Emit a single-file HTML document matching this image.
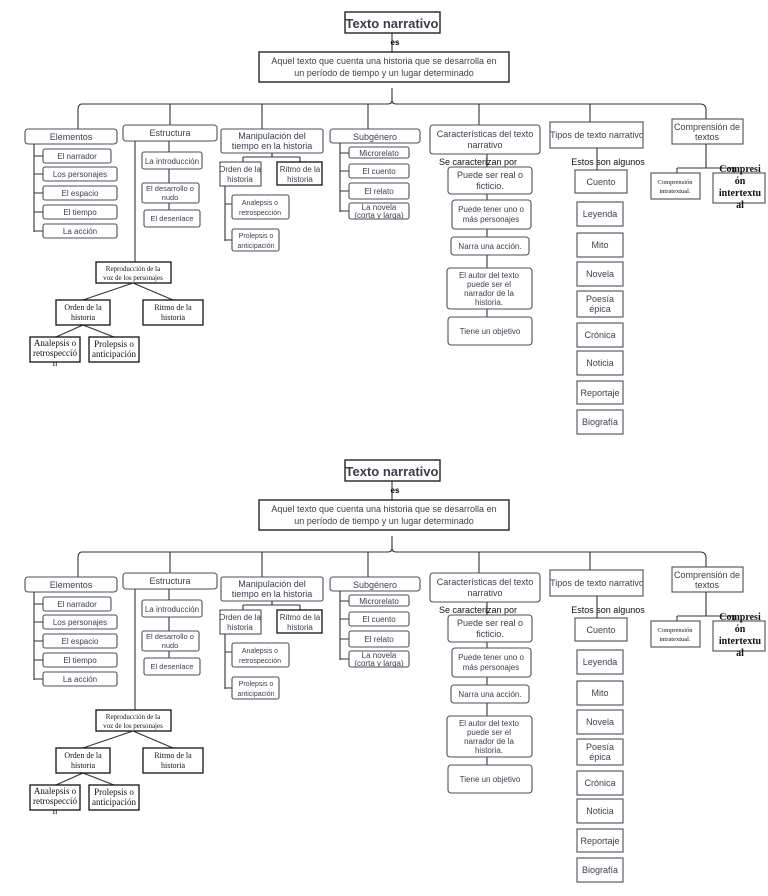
<!DOCTYPE html>
<html><head><meta charset="utf-8"><style>
html,body{margin:0;padding:0;background:#fff;}
svg{display:block;}
text{font-family:"Liberation Sans",sans-serif;fill:#3a3f4a;text-anchor:middle;}
.b{fill:#fff;stroke:#4a4f58;stroke-width:1.1;}
.k{fill:#fff;stroke:#111;stroke-width:1.3;}
.l{stroke:#333;stroke-width:1.1;fill:none;}
.s{font-size:8px;}
.m{font-size:9px;}
.bl{fill:#000;}
.sf{font-family:"Liberation Serif",serif;fill:#111;}
</style></head><body>
<svg width="768" height="896" viewBox="0 0 768 896" xmlns="http://www.w3.org/2000/svg">
<g id="d1">
<rect class="k" x="345" y="12" width="95" height="21"/>
<text x="392" y="28" style="font-size:13px;font-weight:bold">Texto narrativo</text>
<line class="l" x1="392" y1="33" x2="392" y2="52"/>
<text x="395" y="45" class="s bl" style="font-weight:bold">es</text>
<rect class="k" x="259" y="52" width="250" height="30"/>
<text x="384" y="64" class="m">Aquel texto que cuenta una historia que se desarrolla en</text>
<text x="384" y="76" class="m">un período de tiempo y un lugar determinado</text>
<path class="l" d="M392 88 V100 Q392 104 388 104 H82 Q78 104 78 110 V129 M392 100 Q392 104 396 104 H700 Q706 104 706 110 V119"/>
<path class="l" d="M170 104V125 M262 104V129 M368 104V129 M479 104V125 M590 104V122"/>
<!-- Elementos -->
<rect class="b" x="25" y="129" width="92" height="15" rx="3"/><text x="71" y="140" class="m">Elementos</text>
<path class="l" d="M34 144V232 M34 156H43 M34 174H43 M34 193H43 M34 212H43 M34 231H43"/>
<rect class="b" x="43" y="149" width="68" height="14" rx="2"/><text x="77" y="159" class="s">El narrador</text>
<rect class="b" x="43" y="167" width="74" height="14" rx="2"/><text x="80" y="177" class="s">Los personajes</text>
<rect class="b" x="43" y="186" width="74" height="14" rx="2"/><text x="80" y="196" class="s">El espacio</text>
<rect class="b" x="43" y="205" width="74" height="14" rx="2"/><text x="80" y="215" class="s">El tiempo</text>
<rect class="b" x="43" y="224" width="74" height="14" rx="2"/><text x="80" y="234" class="s">La acción</text>
<!-- Estructura -->
<rect class="b" x="123" y="125" width="94" height="16" rx="3"/><text x="170" y="136" class="m">Estructura</text>
<path class="l" d="M169 141V153 M169 169V183 M169 203V210 M135 141V262"/>
<rect class="b" x="142" y="152" width="60" height="17" rx="2"/><text x="172" y="164" class="s">La introducción</text>
<rect class="b" x="142" y="183" width="57" height="20" rx="2"/><text x="170" y="191" class="s" style="font-size:7.5px">El desarrollo o</text><text x="170" y="200" class="s" style="font-size:7.5px">nudo</text>
<rect class="b" x="144" y="210" width="56" height="17" rx="2"/><text x="172" y="221" class="s" style="font-size:7.5px">El desenlace</text>
<!-- Manipulación -->
<rect class="b" x="221" y="129" width="102" height="24" rx="2"/><text x="272" y="139" class="m">Manipulación del</text><text x="272" y="149" class="m">tiempo en la historia</text>
<path class="l" d="M272 153V157 M243 157H300 M243 157V162 M300 157V162 M225 186V241 M225 204H232 M225 240H232"/>
<rect class="b" x="220" y="162" width="41" height="24"/><text x="240" y="172" class="s">Orden de la</text><text x="240" y="182" class="s">historia</text>
<rect class="k" x="277" y="162" width="45" height="23"/><text x="300" y="172" class="s">Ritmo de la</text><text x="300" y="182" class="s">historia</text>
<rect class="b" x="232" y="195" width="57" height="24" rx="2"/><text x="260" y="205" class="s" style="font-size:7px">Analepsis o</text><text x="260" y="215" class="s" style="font-size:7px">retrospección</text>
<rect class="b" x="232" y="229" width="47" height="22" rx="2"/><text x="256" y="238" class="s" style="font-size:7px">Prolepsis o</text><text x="256" y="248" class="s" style="font-size:7px">anticipación</text>
<!-- Subgénero -->
<rect class="b" x="330" y="129" width="90" height="14" rx="3"/><text x="375" y="140" class="m">Subgénero</text>
<path class="l" d="M340 143V212 M340 153H349 M340 171H349 M340 191H349 M340 211H349"/>
<rect class="b" x="349" y="147" width="60" height="11" rx="2"/><text x="379" y="156" class="s">Microrelato</text>
<rect class="b" x="349" y="164" width="60" height="14" rx="2"/><text x="379" y="174" class="s">El cuento</text>
<rect class="b" x="349" y="183" width="60" height="16" rx="2"/><text x="379" y="194" class="s">El relato</text>
<rect class="b" x="349" y="203" width="60" height="16" rx="2"/><text x="379" y="210" class="s">La novela</text><text x="379" y="218" class="s">(corta y larga)</text>
<!-- Características -->
<rect class="b" x="430" y="125" width="110" height="29" rx="3"/><text x="485" y="137" class="m">Características del texto</text><text x="485" y="148" class="m">narrativo</text>
<path class="l" d="M487 154V317"/>
<text x="478" y="165" class="m bl" style="fill:#111">Se caracterizan por</text>
<rect class="b" x="448" y="167" width="84" height="27" rx="3"/><text x="490" y="178" class="m">Puede ser real o</text><text x="490" y="189" class="m">ficticio.</text>
<rect class="b" x="452" y="200" width="79" height="29" rx="3"/><text x="491" y="212" class="s">Puede tener uno o</text><text x="491" y="222" class="s">más personajes</text>
<rect class="b" x="451" y="237" width="78" height="18" rx="3"/><text x="490" y="249" class="s">Narra una acción.</text>
<rect class="b" x="447" y="268" width="85" height="41" rx="3"/><text x="489" y="278" class="s">El autor del texto</text><text x="489" y="287" class="s">puede ser el</text><text x="489" y="296" class="s">narrador de la</text><text x="489" y="305" class="s">historia.</text>
<rect class="b" x="448" y="317" width="84" height="28" rx="3"/><text x="490" y="334" class="s">Tiene un objetivo</text>
<!-- Tipos -->
<rect class="b" x="550" y="122" width="93" height="26"/><text x="597" y="138" class="m">Tipos de texto narrativo</text>
<path class="l" d="M597 148V171"/>
<text x="608" y="165" class="m bl" style="fill:#111">Estos son algunos</text>
<rect class="b" x="575" y="170" width="52" height="23"/><text x="601" y="185" class="m">Cuento</text>
<rect class="b" x="577" y="202" width="46" height="24"/><text x="600" y="217" class="m">Leyenda</text>
<rect class="b" x="577" y="233" width="46" height="24"/><text x="600" y="248" class="m">Mito</text>
<rect class="b" x="577" y="262" width="46" height="24"/><text x="600" y="277" class="m">Novela</text>
<rect class="b" x="577" y="291" width="46" height="26"/><text x="600" y="302" class="m">Poesía</text><text x="600" y="312" class="m">épica</text>
<rect class="b" x="577" y="323" width="46" height="24"/><text x="600" y="338" class="m">Crónica</text>
<rect class="b" x="577" y="351" width="46" height="24"/><text x="600" y="366" class="m">Noticia</text>
<rect class="b" x="577" y="381" width="46" height="23"/><text x="600" y="396" class="m">Reportaje</text>
<rect class="b" x="577" y="410" width="46" height="24"/><text x="600" y="425" class="m">Biografía</text>
<!-- Comprensión -->
<rect class="b" x="672" y="119" width="71" height="25"/><text x="707" y="130" class="m">Comprensión de</text><text x="707" y="140" class="m">textos</text>
<path class="l" d="M706 144V168 M677 168H734 M677 168V173 M734 168V173"/>
<rect class="b" x="651" y="173" width="49" height="26"/><text x="675" y="184" class="sf" style="font-size:6.5px">Comprensión</text><text x="675" y="193" class="sf" style="font-size:6.5px">intratextual.</text>
<rect class="b" x="713" y="173" width="52" height="30"/>
<text x="740" y="172" class="sf" style="font-size:10px;font-weight:bold">Compresi</text>
<text x="740" y="184" class="sf" style="font-size:10px;font-weight:bold">ón</text>
<text x="740" y="196" class="sf" style="font-size:10px;font-weight:bold">intertextu</text>
<text x="740" y="208" class="sf" style="font-size:10px;font-weight:bold">al</text>
<!-- Reproducción -->
<rect class="k" x="96" y="262" width="75" height="21"/><text x="133" y="271" class="sf" style="font-size:7px">Reproducción de la</text><text x="133" y="280" class="sf" style="font-size:7px">voz de los personajes</text>
<path class="l" d="M133 283L83 300 M133 283L173 300 M83 325L56 337 M83 325L114 337"/>
<rect class="k" x="56" y="300" width="54" height="25"/><text x="83" y="310" class="sf" style="font-size:8px">Orden de la</text><text x="83" y="320" class="sf" style="font-size:8px">historia</text>
<rect class="k" x="143" y="300" width="60" height="25"/><text x="173" y="310" class="sf" style="font-size:8px">Ritmo de la</text><text x="173" y="320" class="sf" style="font-size:8px">historia</text>
<rect class="k" x="30" y="337" width="50" height="25"/><text x="55" y="346" class="sf" style="font-size:9px">Analepsis o</text><text x="55" y="356" class="sf" style="font-size:9px">retrospecció</text><text x="55" y="366" class="sf" style="font-size:9px">n</text>
<rect class="k" x="89" y="337" width="50" height="25"/><text x="114" y="347" class="sf" style="font-size:9px">Prolepsis o</text><text x="114" y="357" class="sf" style="font-size:9px">anticipación</text>
</g>
<g transform="translate(0,448)">
<rect class="k" x="345" y="12" width="95" height="21"/>
<text x="392" y="28" style="font-size:13px;font-weight:bold">Texto narrativo</text>
<line class="l" x1="392" y1="33" x2="392" y2="52"/>
<text x="395" y="45" class="s bl" style="font-weight:bold">es</text>
<rect class="k" x="259" y="52" width="250" height="30"/>
<text x="384" y="64" class="m">Aquel texto que cuenta una historia que se desarrolla en</text>
<text x="384" y="76" class="m">un período de tiempo y un lugar determinado</text>
<path class="l" d="M392 88 V100 Q392 104 388 104 H82 Q78 104 78 110 V129 M392 100 Q392 104 396 104 H700 Q706 104 706 110 V119"/>
<path class="l" d="M170 104V125 M262 104V129 M368 104V129 M479 104V125 M590 104V122"/>
<rect class="b" x="25" y="129" width="92" height="15" rx="3"/><text x="71" y="140" class="m">Elementos</text>
<path class="l" d="M34 144V232 M34 156H43 M34 174H43 M34 193H43 M34 212H43 M34 231H43"/>
<rect class="b" x="43" y="149" width="68" height="14" rx="2"/><text x="77" y="159" class="s">El narrador</text>
<rect class="b" x="43" y="167" width="74" height="14" rx="2"/><text x="80" y="177" class="s">Los personajes</text>
<rect class="b" x="43" y="186" width="74" height="14" rx="2"/><text x="80" y="196" class="s">El espacio</text>
<rect class="b" x="43" y="205" width="74" height="14" rx="2"/><text x="80" y="215" class="s">El tiempo</text>
<rect class="b" x="43" y="224" width="74" height="14" rx="2"/><text x="80" y="234" class="s">La acción</text>
<rect class="b" x="123" y="125" width="94" height="16" rx="3"/><text x="170" y="136" class="m">Estructura</text>
<path class="l" d="M169 141V153 M169 169V183 M169 203V210 M135 141V262"/>
<rect class="b" x="142" y="152" width="60" height="17" rx="2"/><text x="172" y="164" class="s">La introducción</text>
<rect class="b" x="142" y="183" width="57" height="20" rx="2"/><text x="170" y="191" class="s" style="font-size:7.5px">El desarrollo o</text><text x="170" y="200" class="s" style="font-size:7.5px">nudo</text>
<rect class="b" x="144" y="210" width="56" height="17" rx="2"/><text x="172" y="221" class="s" style="font-size:7.5px">El desenlace</text>
<rect class="b" x="221" y="129" width="102" height="24" rx="2"/><text x="272" y="139" class="m">Manipulación del</text><text x="272" y="149" class="m">tiempo en la historia</text>
<path class="l" d="M272 153V157 M243 157H300 M243 157V162 M300 157V162 M225 186V241 M225 204H232 M225 240H232"/>
<rect class="b" x="220" y="162" width="41" height="24"/><text x="240" y="172" class="s">Orden de la</text><text x="240" y="182" class="s">historia</text>
<rect class="k" x="277" y="162" width="45" height="23"/><text x="300" y="172" class="s">Ritmo de la</text><text x="300" y="182" class="s">historia</text>
<rect class="b" x="232" y="195" width="57" height="24" rx="2"/><text x="260" y="205" class="s" style="font-size:7px">Analepsis o</text><text x="260" y="215" class="s" style="font-size:7px">retrospección</text>
<rect class="b" x="232" y="229" width="47" height="22" rx="2"/><text x="256" y="238" class="s" style="font-size:7px">Prolepsis o</text><text x="256" y="248" class="s" style="font-size:7px">anticipación</text>
<rect class="b" x="330" y="129" width="90" height="14" rx="3"/><text x="375" y="140" class="m">Subgénero</text>
<path class="l" d="M340 143V212 M340 153H349 M340 171H349 M340 191H349 M340 211H349"/>
<rect class="b" x="349" y="147" width="60" height="11" rx="2"/><text x="379" y="156" class="s">Microrelato</text>
<rect class="b" x="349" y="164" width="60" height="14" rx="2"/><text x="379" y="174" class="s">El cuento</text>
<rect class="b" x="349" y="183" width="60" height="16" rx="2"/><text x="379" y="194" class="s">El relato</text>
<rect class="b" x="349" y="203" width="60" height="16" rx="2"/><text x="379" y="210" class="s">La novela</text><text x="379" y="218" class="s">(corta y larga)</text>
<rect class="b" x="430" y="125" width="110" height="29" rx="3"/><text x="485" y="137" class="m">Características del texto</text><text x="485" y="148" class="m">narrativo</text>
<path class="l" d="M487 154V317"/>
<text x="478" y="165" class="m bl" style="fill:#111">Se caracterizan por</text>
<rect class="b" x="448" y="167" width="84" height="27" rx="3"/><text x="490" y="178" class="m">Puede ser real o</text><text x="490" y="189" class="m">ficticio.</text>
<rect class="b" x="452" y="200" width="79" height="29" rx="3"/><text x="491" y="212" class="s">Puede tener uno o</text><text x="491" y="222" class="s">más personajes</text>
<rect class="b" x="451" y="237" width="78" height="18" rx="3"/><text x="490" y="249" class="s">Narra una acción.</text>
<rect class="b" x="447" y="268" width="85" height="41" rx="3"/><text x="489" y="278" class="s">El autor del texto</text><text x="489" y="287" class="s">puede ser el</text><text x="489" y="296" class="s">narrador de la</text><text x="489" y="305" class="s">historia.</text>
<rect class="b" x="448" y="317" width="84" height="28" rx="3"/><text x="490" y="334" class="s">Tiene un objetivo</text>
<rect class="b" x="550" y="122" width="93" height="26"/><text x="597" y="138" class="m">Tipos de texto narrativo</text>
<path class="l" d="M597 148V171"/>
<text x="608" y="165" class="m bl" style="fill:#111">Estos son algunos</text>
<rect class="b" x="575" y="170" width="52" height="23"/><text x="601" y="185" class="m">Cuento</text>
<rect class="b" x="577" y="202" width="46" height="24"/><text x="600" y="217" class="m">Leyenda</text>
<rect class="b" x="577" y="233" width="46" height="24"/><text x="600" y="248" class="m">Mito</text>
<rect class="b" x="577" y="262" width="46" height="24"/><text x="600" y="277" class="m">Novela</text>
<rect class="b" x="577" y="291" width="46" height="26"/><text x="600" y="302" class="m">Poesía</text><text x="600" y="312" class="m">épica</text>
<rect class="b" x="577" y="323" width="46" height="24"/><text x="600" y="338" class="m">Crónica</text>
<rect class="b" x="577" y="351" width="46" height="24"/><text x="600" y="366" class="m">Noticia</text>
<rect class="b" x="577" y="381" width="46" height="23"/><text x="600" y="396" class="m">Reportaje</text>
<rect class="b" x="577" y="410" width="46" height="24"/><text x="600" y="425" class="m">Biografía</text>
<rect class="b" x="672" y="119" width="71" height="25"/><text x="707" y="130" class="m">Comprensión de</text><text x="707" y="140" class="m">textos</text>
<path class="l" d="M706 144V168 M677 168H734 M677 168V173 M734 168V173"/>
<rect class="b" x="651" y="173" width="49" height="26"/><text x="675" y="184" class="sf" style="font-size:6.5px">Comprensión</text><text x="675" y="193" class="sf" style="font-size:6.5px">intratextual.</text>
<rect class="b" x="713" y="173" width="52" height="30"/>
<text x="740" y="172" class="sf" style="font-size:10px;font-weight:bold">Compresi</text>
<text x="740" y="184" class="sf" style="font-size:10px;font-weight:bold">ón</text>
<text x="740" y="196" class="sf" style="font-size:10px;font-weight:bold">intertextu</text>
<text x="740" y="208" class="sf" style="font-size:10px;font-weight:bold">al</text>
<rect class="k" x="96" y="262" width="75" height="21"/><text x="133" y="271" class="sf" style="font-size:7px">Reproducción de la</text><text x="133" y="280" class="sf" style="font-size:7px">voz de los personajes</text>
<path class="l" d="M133 283L83 300 M133 283L173 300 M83 325L56 337 M83 325L114 337"/>
<rect class="k" x="56" y="300" width="54" height="25"/><text x="83" y="310" class="sf" style="font-size:8px">Orden de la</text><text x="83" y="320" class="sf" style="font-size:8px">historia</text>
<rect class="k" x="143" y="300" width="60" height="25"/><text x="173" y="310" class="sf" style="font-size:8px">Ritmo de la</text><text x="173" y="320" class="sf" style="font-size:8px">historia</text>
<rect class="k" x="30" y="337" width="50" height="25"/><text x="55" y="346" class="sf" style="font-size:9px">Analepsis o</text><text x="55" y="356" class="sf" style="font-size:9px">retrospecció</text><text x="55" y="366" class="sf" style="font-size:9px">n</text>
<rect class="k" x="89" y="337" width="50" height="25"/><text x="114" y="347" class="sf" style="font-size:9px">Prolepsis o</text><text x="114" y="357" class="sf" style="font-size:9px">anticipación</text>
</g>
</svg>
</body></html>
